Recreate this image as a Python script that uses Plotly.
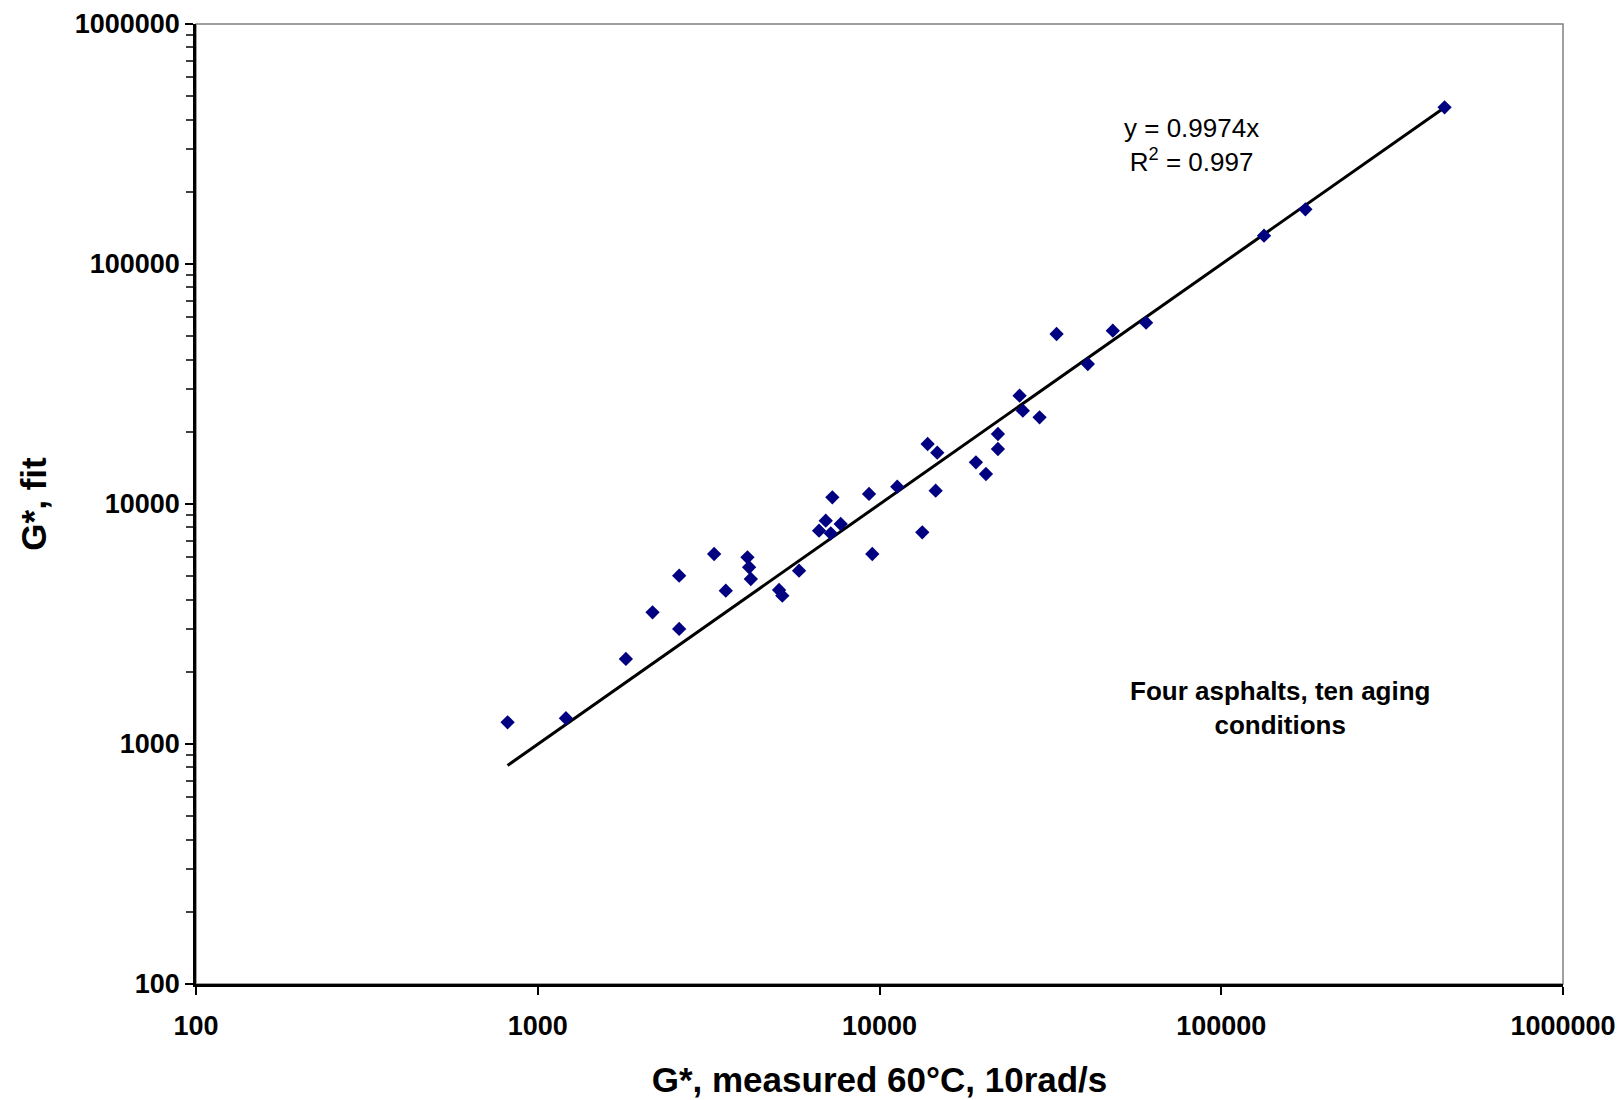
import plotly.graph_objects as go

# Measured G* (60°C, 10 rad/s) and fitted G*
g_measured = [816, 1209, 1811, 2167, 2593, 2593, 3282, 3550, 4108, 4154,
              4202, 5082, 5196, 5816, 6655, 6962, 7200, 7278, 7700, 9318,
              9526, 11270, 13340, 14600, 14757, 13830, 19150, 20490, 22210, 22210,
              25700, 26270, 29400, 32970, 40700, 48160, 60270, 133400, 176300, 450300]
g_fit = [1231, 1280, 2261, 3538, 5027, 3015, 6189, 4353, 5996, 5450,
         4870, 4383, 4149, 5274, 7742, 8519, 7550, 10665, 8254, 11010,
         6189, 11806, 7623, 11360, 16362, 17783, 14920, 13335, 19570, 16953,
         28270, 24480, 22980, 51100, 38310, 52740, 56940, 131200, 169000, 449700]

slope = 0.9974
r_squared = 0.997

tick_vals = [100, 1000, 10000, 100000, 1000000]
tick_text = ["100", "1000", "10000", "100000", "1000000"]
minor_vals = [k * 10 ** e for e in range(2, 6) for k in range(2, 10)]

FONT = "Liberation Sans, Arial, sans-serif"

x_line = [min(g_measured), max(g_measured)]
y_line = [slope * v for v in x_line]

fig = go.Figure()
fig.add_trace(go.Scatter(x=x_line, y=y_line, mode="lines",
                         line=dict(color="black", width=3), showlegend=False))
fig.add_trace(go.Scatter(x=g_measured, y=g_fit, mode="markers",
                         marker=dict(symbol="diamond", size=11, color="#000080",
                                     line=dict(width=0)),
                         showlegend=False))

fig.update_layout(
    width=1621, height=1100,
    margin=dict(l=196, r=58, t=24, b=116),
    paper_bgcolor="white", plot_bgcolor="white",
    font=dict(family=FONT, color="black"),
    shapes=[dict(type="rect", xref="paper", yref="paper", x0=0, y0=0, x1=1, y1=1,
                 line=dict(color="#808080", width=1.5), layer="below")],
    annotations=[
        dict(x=0.728, y=0.874, xref="paper", yref="paper",
             xanchor="center", yanchor="middle",
             text=f"y = {slope}x<br>R<sup>2</sup> = {r_squared}",
             showarrow=False, align="center",
             font=dict(size=26, family=FONT, color="black")),
        dict(x=0.793, y=0.288, xref="paper", yref="paper",
             xanchor="center", yanchor="middle",
             text="Four asphalts, ten aging<br>conditions",
             showarrow=False, align="center",
             font=dict(size=26, family=FONT, color="black", weight="bold")),
    ],
)

fig.update_xaxes(type="log", range=[2, 6], tickvals=tick_vals, ticktext=tick_text,
                 automargin=False,
                 ticks="outside", ticklen=8, tickwidth=1.5, tickcolor="black",
                 ticklabelstandoff=8,
                 showgrid=False, zeroline=False,
                 showline=True, linecolor="black", linewidth=2.5,
                 tickfont=dict(size=27, family=FONT, weight="bold"),
                 title=dict(text="G*, measured 60°C, 10rad/s", standoff=28,
                            font=dict(size=35, family=FONT, weight="bold")))
fig.update_yaxes(type="log", range=[2, 6], tickvals=tick_vals, ticktext=tick_text,
                 automargin=False,
                 ticks="outside", ticklen=8, tickwidth=1.5, tickcolor="black",
                 minor=dict(tickvals=minor_vals, ticks="outside", ticklen=7,
                            tickwidth=1.5, tickcolor="#404040", showgrid=False),
                 showgrid=False, zeroline=False,
                 showline=True, linecolor="black", linewidth=2.5,
                 tickfont=dict(size=27, family=FONT, weight="bold"),
                 title=dict(text="G*, fit", standoff=18,
                            font=dict(size=35, family=FONT, weight="bold")))

fig.write_html("out.html")
